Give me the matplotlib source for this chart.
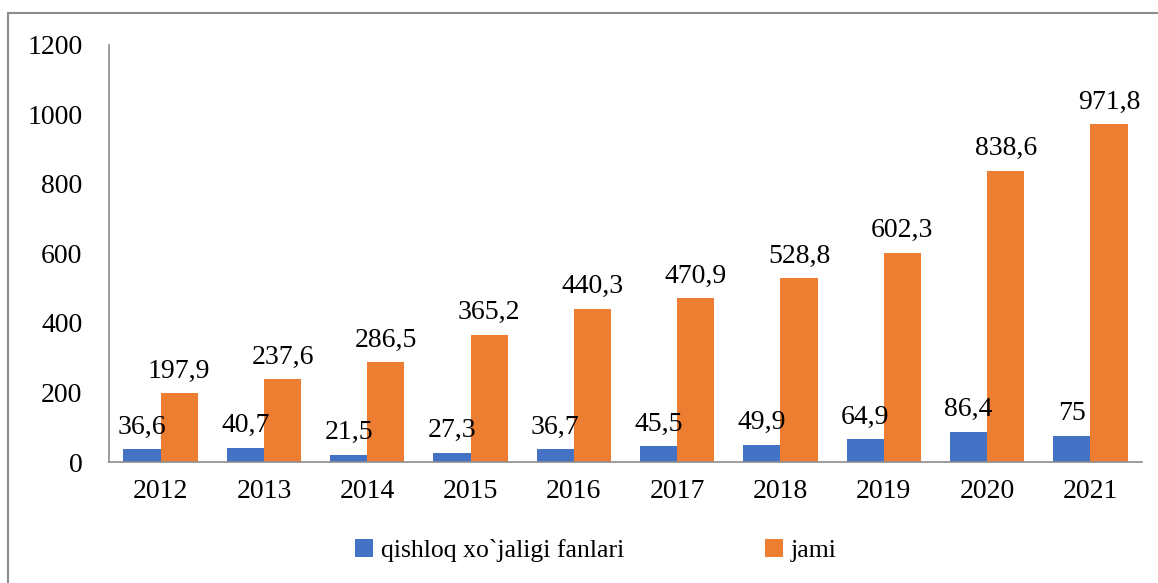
import numpy as np
import matplotlib.pyplot as plt
from matplotlib.patches import Rectangle

years = ['2012', '2013', '2014', '2015', '2016', '2017', '2018', '2019', '2020', '2021']
qishloq = [36.6, 40.7, 21.5, 27.3, 36.7, 45.5, 49.9, 64.9, 86.4, 75]
jami = [197.9, 237.6, 286.5, 365.2, 440.3, 470.9, 528.8, 602.3, 838.6, 971.8]
yticks = [0, 200, 400, 600, 800, 1000, 1200]

plt.rcParams['font.family'] = ['Liberation Serif', 'DejaVu Serif']
blue = '#4472C4'
orange = '#ED7D31'
grey = '#8c8c8c'

fig = plt.figure(figsize=(11.58, 5.83), dpi=100)
ax = fig.add_axes([109 / 1158, (583 - 462) / 583, (1142 - 109) / 1158, (462 - 45) / 583])

x = np.arange(len(years))
w = 0.36
b1 = ax.bar(x - w / 2, qishloq, w, color=blue, label='qishloq xo`jaligi fanlari')
b2 = ax.bar(x + w / 2, jami, w, color=orange, label='jami')


def fmt(v):
    return f'{v:g}'.replace('.', ',')


for bars, vals in ((b1, qishloq), (b2, jami)):
    for r, v in zip(bars, vals):
        ax.annotate(fmt(v), (r.get_x() + r.get_width() / 2, v),
                    xytext=(0, 7), textcoords='offset points',
                    ha='center', va='bottom', fontsize=20)

ax.set_xlim(-0.5, len(years) - 0.5)
ax.set_ylim(0, 1200)
ax.set_yticks(yticks)
ax.set_xticks(x)
ax.set_xticklabels(years)
ax.tick_params(axis='both', length=0, labelsize=20)
ax.tick_params(axis='x', pad=12)
ax.tick_params(axis='y', pad=19)
for s in ('top', 'right'):
    ax.spines[s].set_visible(False)
for s in ('left', 'bottom'):
    ax.spines[s].set_color(grey)
    ax.spines[s].set_linewidth(1.2)

ax.legend(loc='center', bbox_to_anchor=(596 / 1158, (583 - 550) / 583), bbox_transform=fig.transFigure,
          ncol=2, frameon=False, fontsize=18.5, handlelength=0.7, handleheight=0.7,
          handletextpad=0.3, columnspacing=5.5)

fig.patches.append(Rectangle((8 / 1158, -0.1), 1.2, (583 - 13) / 583 + 0.1,
                             transform=fig.transFigure, fill=False,
                             edgecolor=grey, linewidth=1.5))

fig.savefig('out.png', dpi=100)
